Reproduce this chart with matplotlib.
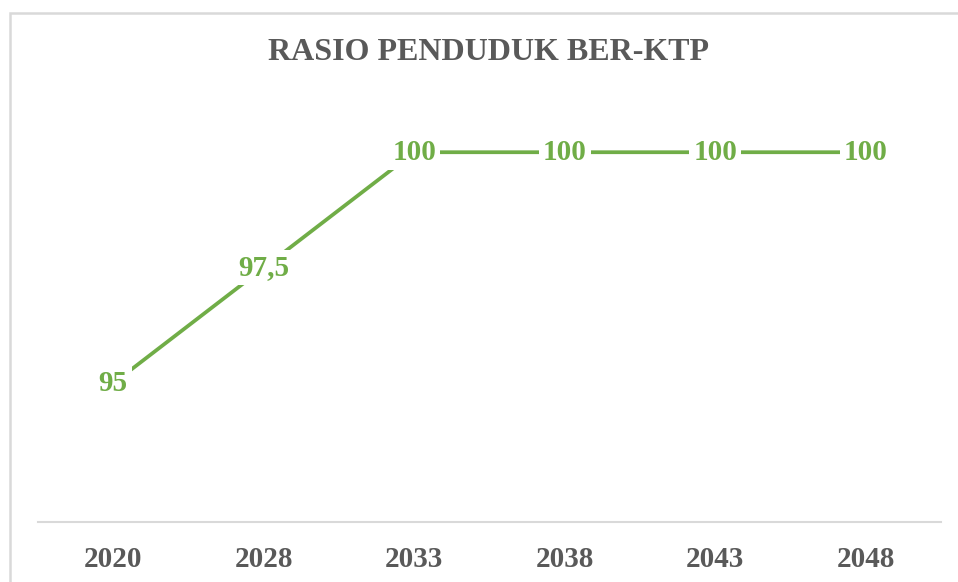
import matplotlib.pyplot as plt
from matplotlib.patches import Rectangle

# data
years = ["2020", "2028", "2033", "2038", "2043", "2048"]
ratio = [95, 97.5, 100, 100, 100, 100]
point_labels = ["95", "97,5", "100", "100", "100", "100"]

green = "#70AD47"
grey_text = "#595959"

plt.rcParams["font.family"] = ["Liberation Serif", "DejaVu Serif"]

fig = plt.figure(figsize=(9.58, 5.82), dpi=100)
ax = fig.add_axes([38 / 958, 1 - 522 / 582, 903 / 958, 416 / 582])

# chart border (cropped at right and bottom)
fig.patches.append(Rectangle((10 / 958, -0.1), 1.2, 1 - 13 / 582 + 0.1,
                             transform=fig.transFigure, fill=False,
                             edgecolor="#D9D9D9", linewidth=1.8))

x = list(range(len(years)))
ax.plot(x, ratio, color=green, linewidth=2.7, solid_capstyle="butt")

for xi, yi, lab in zip(x, ratio, point_labels):
    ax.text(xi, yi, lab, ha="center", va="center", fontsize=21,
            fontweight="bold", color=green,
            bbox=dict(facecolor="white", edgecolor="none", pad=3))

ax.set_xlim(-0.5, len(years) - 0.5)
ax.set_ylim(92, 101)
ax.set_xticks(x)
ax.set_xticklabels(years, fontsize=21, fontweight="bold", color=grey_text)
ax.tick_params(axis="x", length=0, pad=17)
ax.set_yticks([])
for side in ["top", "left", "right"]:
    ax.spines[side].set_visible(False)
ax.spines["bottom"].set_color("#D9D9D9")
ax.spines["bottom"].set_linewidth(1.5)

fig.text(488 / 958, 1 - 53 / 582, "RASIO PENDUDUK BER-KTP", ha="center",
         va="center", fontsize=23, fontweight="bold", color=grey_text)

fig.savefig("out.png", dpi=100)
